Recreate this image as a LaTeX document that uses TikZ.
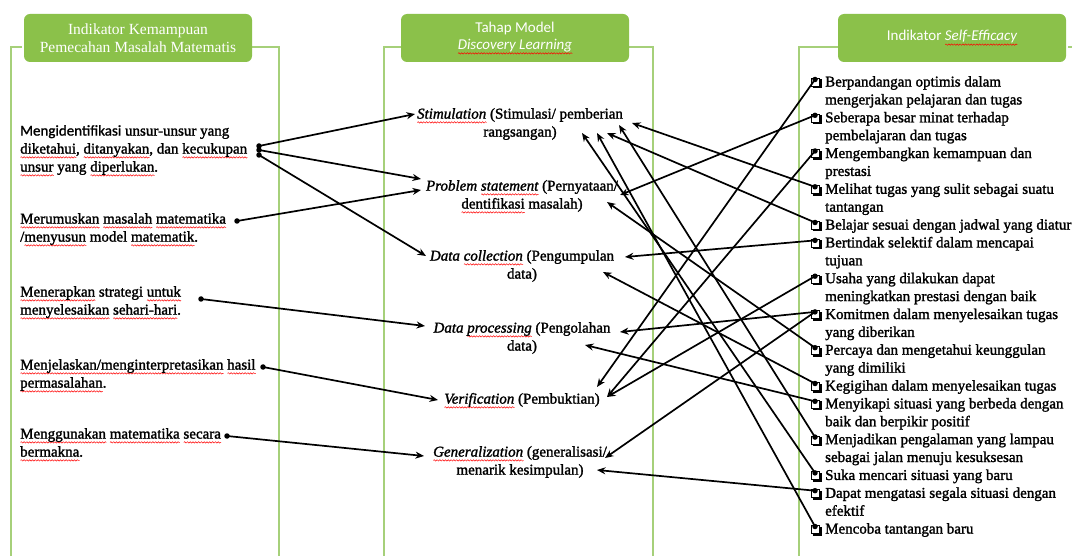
\documentclass[tikz,border=0pt]{standalone}
\usepackage{fontspec}
\setmainfont{Liberation Serif}[UprightFeatures={FakeBold=1.6},ItalicFeatures={FakeBold=1.6}]
\newfontfamily\carl{Carlito}[UprightFeatures={FakeBold=1.2},ItalicFeatures={FakeBold=1.2}]
\newfontfamily\hdrserif{Liberation Serif}
\newfontfamily\hdrsans{Carlito}
\usetikzlibrary{arrows.meta,decorations.pathmorphing}
\definecolor{hdrgreen}{RGB}{139,193,74}
\definecolor{brkgreen}{RGB}{166,208,122}
\newsavebox\sqbox
\newlength\sqwd
\newcommand\sq[1]{\sbox\sqbox{#1}\setlength\sqwd{\wd\sqbox}\leavevmode\rlap{\tikz[baseline=0pt]\draw[draw=red,fill=none,sharp corners,line width=0.5pt,decorate,decoration={snake,amplitude=0.7pt,segment length=2.8pt}] (0pt,-3.8pt) -- (\sqwd,-3.8pt);}\usebox\sqbox}
\tikzset{pics/bul/.style={code={
  \draw[line width=1pt] (-4.5,-4.5) rectangle (3.5,3.5);
  \draw[line width=1.6pt] (-3.5,4.7) -- (4.7,4.7) -- (4.7,-3.5);}}}
\begin{document}
\begin{tikzpicture}[x=1pt,y=-1pt,
  txt/.style={inner sep=0pt, align=left, font=\fontsize{15}{18}\selectfont, anchor=west},
  mid/.style={inner sep=0pt, align=center, font=\fontsize{15}{18}\selectfont},
  rt/.style={inner sep=0pt, align=left, font=\fontsize{15}{17.88}\selectfont, anchor=west},
  hdr/.style={fill=hdrgreen, rounded corners=6pt, minimum width=228pt, minimum height=48pt, text=white, align=center, inner sep=0pt},
  brk/.style={draw=brkgreen, line width=1.3pt},
  con/.style={line width=1.7pt, -{Stealth[length=8.5pt,width=7pt]}},
  ep/.style={circle, fill=black, inner sep=0pt, minimum size=5.5pt},
]
\useasboundingbox (0,0) rectangle (1072,556);
\fill[white] (0,0) rectangle (1072,556);

% brackets
\draw[brk] (22,47) -- (11,47) -- (11,560);
\draw[brk] (252,47) -- (279,47) -- (279,560);
\draw[brk] (401,47) -- (384,47) -- (384,560);
\draw[brk] (629,47) -- (653,47) -- (653,560);
\draw[brk] (838,47) -- (799,47) -- (799,560);
\draw[brk] (1068,47) -- (1080,47);

% headers
\node[hdr, font=\hdrserif\fontsize{15.5}{18}\selectfont] (h1) at (138,38) {Indikator Kemampuan\\Pemecahan Masalah Matematis};
\node[hdr, font=\hdrsans\fontsize{15}{17.5}\selectfont] (h2) at (515,38) {Tahap Model\\\textit{\sq{Discovery Learning}}};
\node[hdr, font=\hdrsans\fontsize{15}{18}\selectfont] (h3) at (952,38) {Indikator \textit{\sq{Self-Efficacy}}};

% left column
\node[txt] (a1) at (20,150) {\strut{\carl Mengidentifikasi} unsur-unsur yang\\\sq{diketahui}, \sq{ditanyakan}, dan \sq{kecukupan}\\\sq{unsur} yang \sq{diperlukan}.\strut};
\node[txt] (a2) at (20,229) {\strut\sq{Merumuskan} \sq{masalah} \sq{matematika}\\/\sq{menyusun} model \sq{matematik}.\strut};
\node[txt] (a3) at (20,302) {\strut\sq{Menerapkan} strategi \sq{untuk}\\\sq{menyelesaikan} \sq{sehari-hari}.\strut};
\node[txt] (a4) at (20,375) {\strut\sq{Menjelaskan/menginterpretasikan} \sq{hasil}\\\sq{permasalahan}.\strut};
\node[txt] (a5) at (20,444) {\strut\sq{Menggunakan} \sq{matematika} \sq{secara}\\\sq{bermakna}.\strut};

% middle column
\node[mid] (m1) at (520,124) {\strut\textit{\sq{Stimulation}} (Stimulasi/ pemberian\\rangsangan)\strut};
\node[mid] (m2) at (522,196) {\strut\textit{Problem \sq{statement}} (Pernyataan/\\\sq{dentifikasi} masalah)\strut};
\node[mid] (m3) at (522,266) {\strut\textit{Data \sq{collection}} (Pengumpulan\\data)\strut};
\node[mid] (m4) at (522,338) {\strut\textit{Data \sq{processing}} (Pengolahan\\data)\strut};
\node[mid] (m5) at (522,400) {\strut\textit{\sq{Verification}} (Pembuktian)\strut};
\node[mid] (m6) at (520,462) {\strut\textit{\sq{Generalization}} (generalisasi/\\menarik kesimpulan)\strut};

% right column
\node[rt] (b1) at (825,91.9) {\strut Berpandangan optimis dalam\\mengerjakan pelajaran dan tugas\strut};
\node[rt] (b2) at (825,127.7) {\strut Seberapa besar minat terhadap\\pembelajaran dan tugas\strut};
\node[rt] (b3) at (825,163.4) {\strut Mengembangkan kemampuan dan\\prestasi\strut};
\node[rt] (b4) at (825,199.2) {\strut Melihat tugas yang sulit sebagai suatu\\tantangan\strut};
\node[rt] (b5) at (825,226.0) {\strut Belajar sesuai dengan jadwal yang diatur\strut};
\node[rt] (b6) at (825,252.8) {\strut Bertindak selektif dalam mencapai\\tujuan\strut};
\node[rt] (b7) at (825,288.6) {\strut Usaha yang dilakukan dapat\\meningkatkan prestasi dengan baik\strut};
\node[rt] (b8) at (825,324.4) {\strut Komitmen dalam menyelesaikan tugas\\yang diberikan\strut};
\node[rt] (b9) at (825,360.1) {\strut Percaya dan mengetahui keunggulan\\yang dimiliki\strut};
\node[rt] (b10) at (825,387.0) {\strut Kegigihan dalam menyelesaikan tugas\strut};
\node[rt] (b11) at (825,413.8) {\strut Menyikapi situasi yang berbeda dengan\\baik dan berpikir positif\strut};
\node[rt] (b12) at (825,449.5) {\strut Menjadikan pengalaman yang lampau\\sebagai jalan menuju kesuksesan\strut};
\node[rt] (b13) at (825,476.4) {\strut Suka mencari situasi yang baru\strut};
\node[rt] (b14) at (825,503.2) {\strut Dapat mengatasi segala situasi dengan\\efektif\strut};
\node[rt] (b15) at (825,530.0) {\strut Mencoba tantangan baru\strut};

% bullets
\foreach \y in {83,118.8,154.5,190.3,226.0,243.9,279.7,315.4,351.2,387.0,404.8,440.6,476.4,494.2,530.0}
  \pic at (816,\y) {bul};

% arrow tip coordinates
\coordinate (stimL) at (415,114);
\coordinate (psL1) at (421,179);
\coordinate (psL2) at (421,190);
\coordinate (dcL) at (426,256);
\coordinate (dpL) at (425,326);
\coordinate (verL) at (438,400);
\coordinate (genL) at (424,456);
\coordinate (stimR1) at (632,123);
\coordinate (stimR2) at (619,125);
\coordinate (stimR3) at (607,133);
\coordinate (stimR4) at (597,133);
\coordinate (stimR5) at (582,133);
\coordinate (psR1) at (620,195);
\coordinate (psR2) at (607,202);
\coordinate (dcR1) at (625,257);
\coordinate (dcR2) at (603,272);
\coordinate (dpR1) at (620,332);
\coordinate (dpR2) at (585,345);
\coordinate (verR1) at (597,387);
\coordinate (verR2) at (607,397);
\coordinate (genR1) at (605,458);
\coordinate (genR2) at (597,470);

% left dots
\node[ep] (d1a) at (259,146) {};
\node[ep] (d1b) at (259,150) {};
\node[ep] (d1c) at (259,155) {};
\node[ep] (d2) at (237,221) {};
\node[ep] (d3) at (201,299) {};
\node[ep] (d4) at (263,367) {};
\node[ep] (d5) at (227,436) {};

% right dots
\node[ep] (r1) at (815,79.5) {};
\node[ep] (r2) at (815,115.3) {};
\node[ep] (r3) at (815,151) {};
\node[ep] (r4) at (815,186.8) {};
\node[ep] (r5) at (815,222.5) {};
\node[ep] (r6) at (815,240.4) {};
\node[ep] (r7) at (815,276.2) {};
\node[ep] (r8) at (815,311.9) {};
\node[ep] (r9) at (815,347.7) {};
\node[ep] (r10) at (815,383.5) {};
\node[ep] (r11) at (815,401.3) {};
\node[ep] (r12) at (815,437.1) {};
\node[ep] (r13) at (815,472.9) {};
\node[ep] (r14) at (815,490.7) {};
\node[ep] (r15) at (815,526.5) {};

% left connectors
\draw[con] (d1a.center) -- (stimL);
\draw[con] (d1b.center) -- (psL1);
\draw[con] (d1c.center) -- (dcL);
\draw[con] (d2.center) -- (psL2);
\draw[con] (d3.center) -- (dpL);
\draw[con] (d4.center) -- (verL);
\draw[con] (d5.center) -- (genL);

% right connectors
\draw[con] (r1.center) -- (verR1);
\draw[con] (r2.center) -- (psR1);
\draw[con] (r3.center) -- (verR2);
\draw[con] (r4.center) -- (stimR1);
\draw[con] (r5.center) -- (stimR3);
\draw[con] (r6.center) -- (dcR1);
\draw[con] (r7.center) -- (verR2);
\draw[con] (r8.center) -- (dpR1);
\draw[con] (r8.center) -- (genR1);
\draw[con] (r9.center) -- (psR2);
\draw[con] (r10.center) -- (dcR2);
\draw[con] (r11.center) -- (dpR2);
\draw[con] (r12.center) -- (stimR2);
\draw[con] (r13.center) -- (stimR5);
\draw[con] (r14.center) -- (genR2);
\draw[con] (r15.center) -- (stimR4);
\end{tikzpicture}
\end{document}
